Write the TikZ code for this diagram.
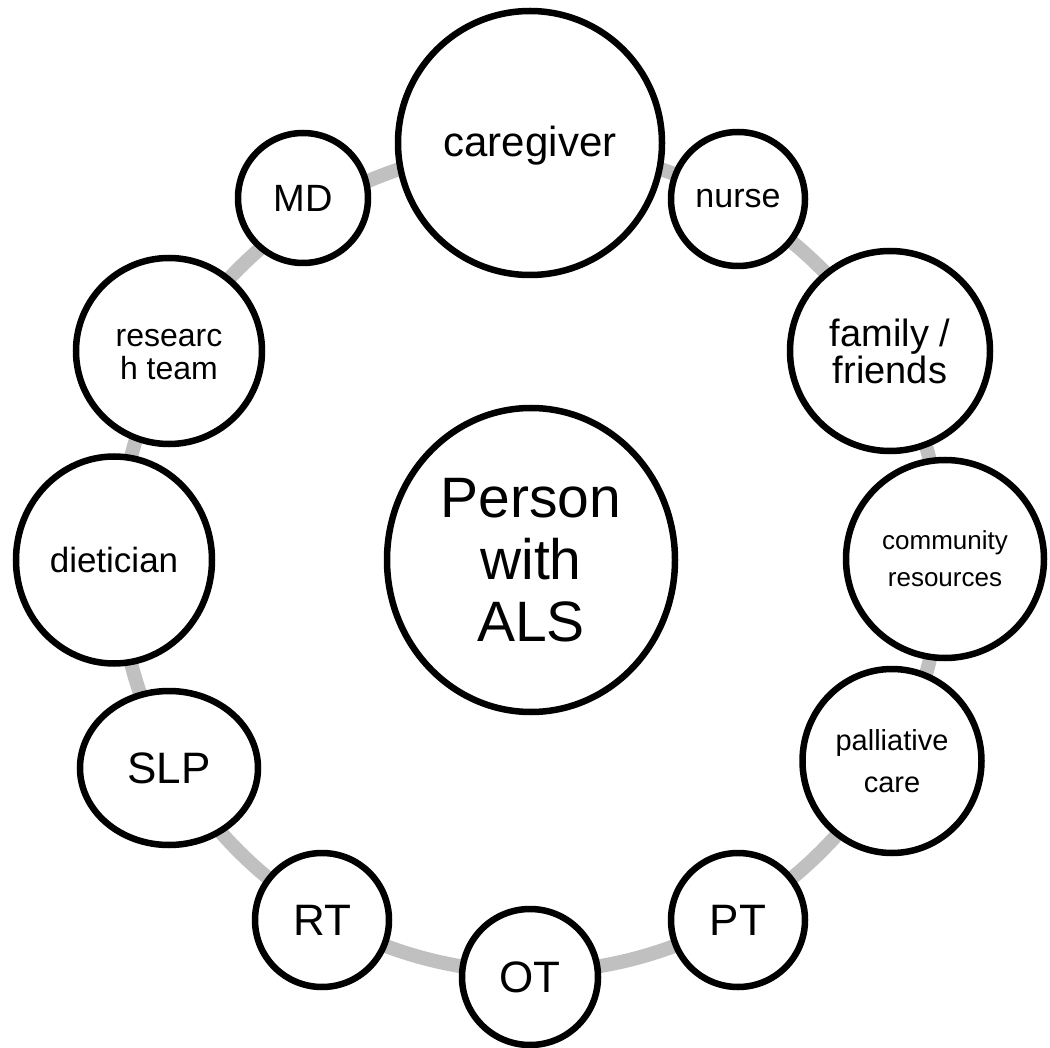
\documentclass[tikz,border=0pt]{standalone}
\usepackage{fontspec}
\setmainfont{Liberation Sans}
\usetikzlibrary{shapes.geometric}
\definecolor{ringgray}{RGB}{192,192,192}
\newcommand\myfs[2]{\fontsize{#1}{#2}\selectfont}
\newcommand\myshift[2]{\raisebox{#1}[\height][\depth]{#2}}
\begin{document}
\begin{tikzpicture}[x=1pt,y=-1pt,
  bub/.style={draw=black, line width=6.5pt, fill=white, inner sep=0pt, align=center},
  rnd/.style={bub, circle, minimum size=#1},
  ell/.style 2 args={bub, ellipse, minimum width=#1, minimum height=#2},
  ring/.style={draw=ringgray, line width=14pt}]
\useasboundingbox (0,0) rectangle (1050,1048);
\fill[white] (0,0) rectangle (1050,1048);
\coordinate (rc) at (530,560);
\draw[ring] (rc) circle[radius=412];
\node[ell={288pt}{304pt}, font=\myfs{57}{62}] (als) at (531,560) {Person\\with\\ALS};
\node[rnd=264pt, font=\myfs{42}{50}] (care) at (530,143) {\myshift{-3pt}{caregiver}};
\node[rnd=130pt, font=\myfs{38}{44}] (md) at (303,198) {MD};
\node[rnd=134pt, font=\myfs{34}{40}] (nurse) at (738,199) {nurse};
\node[rnd=186pt, font=\myfs{32}{33}] (research) at (169,351) {\myshift{-5pt}{\begin{tabular}{@{}c@{}}researc\\h team\end{tabular}}};
\node[rnd=200pt, font=\myfs{38}{37}] (family) at (890,351) {family /\\friends};
\node[ell={196pt}{207pt}, font=\myfs{35}{40}] (diet) at (114,560) {dietician};
\node[rnd=198pt, font=\myfs{26}{37}] (comm) at (945,559) {community\\resources};
\node[ell={178pt}{154pt}, font=\myfs{44}{50}] (slp) at (169,768) {SLP};
\node[ell={179pt}{184pt}, font=\myfs{29}{42}] (pall) at (892,761) {palliative\\care};
\node[rnd=134pt, font=\myfs{44}{50}] (rt) at (322,920) {RT};
\node[rnd=134pt, font=\myfs{44}{50}] (pt) at (738,920) {PT};
\node[rnd=136pt, font=\myfs{44}{50}] (ot) at (530,977) {OT};
\end{tikzpicture}
\end{document}
